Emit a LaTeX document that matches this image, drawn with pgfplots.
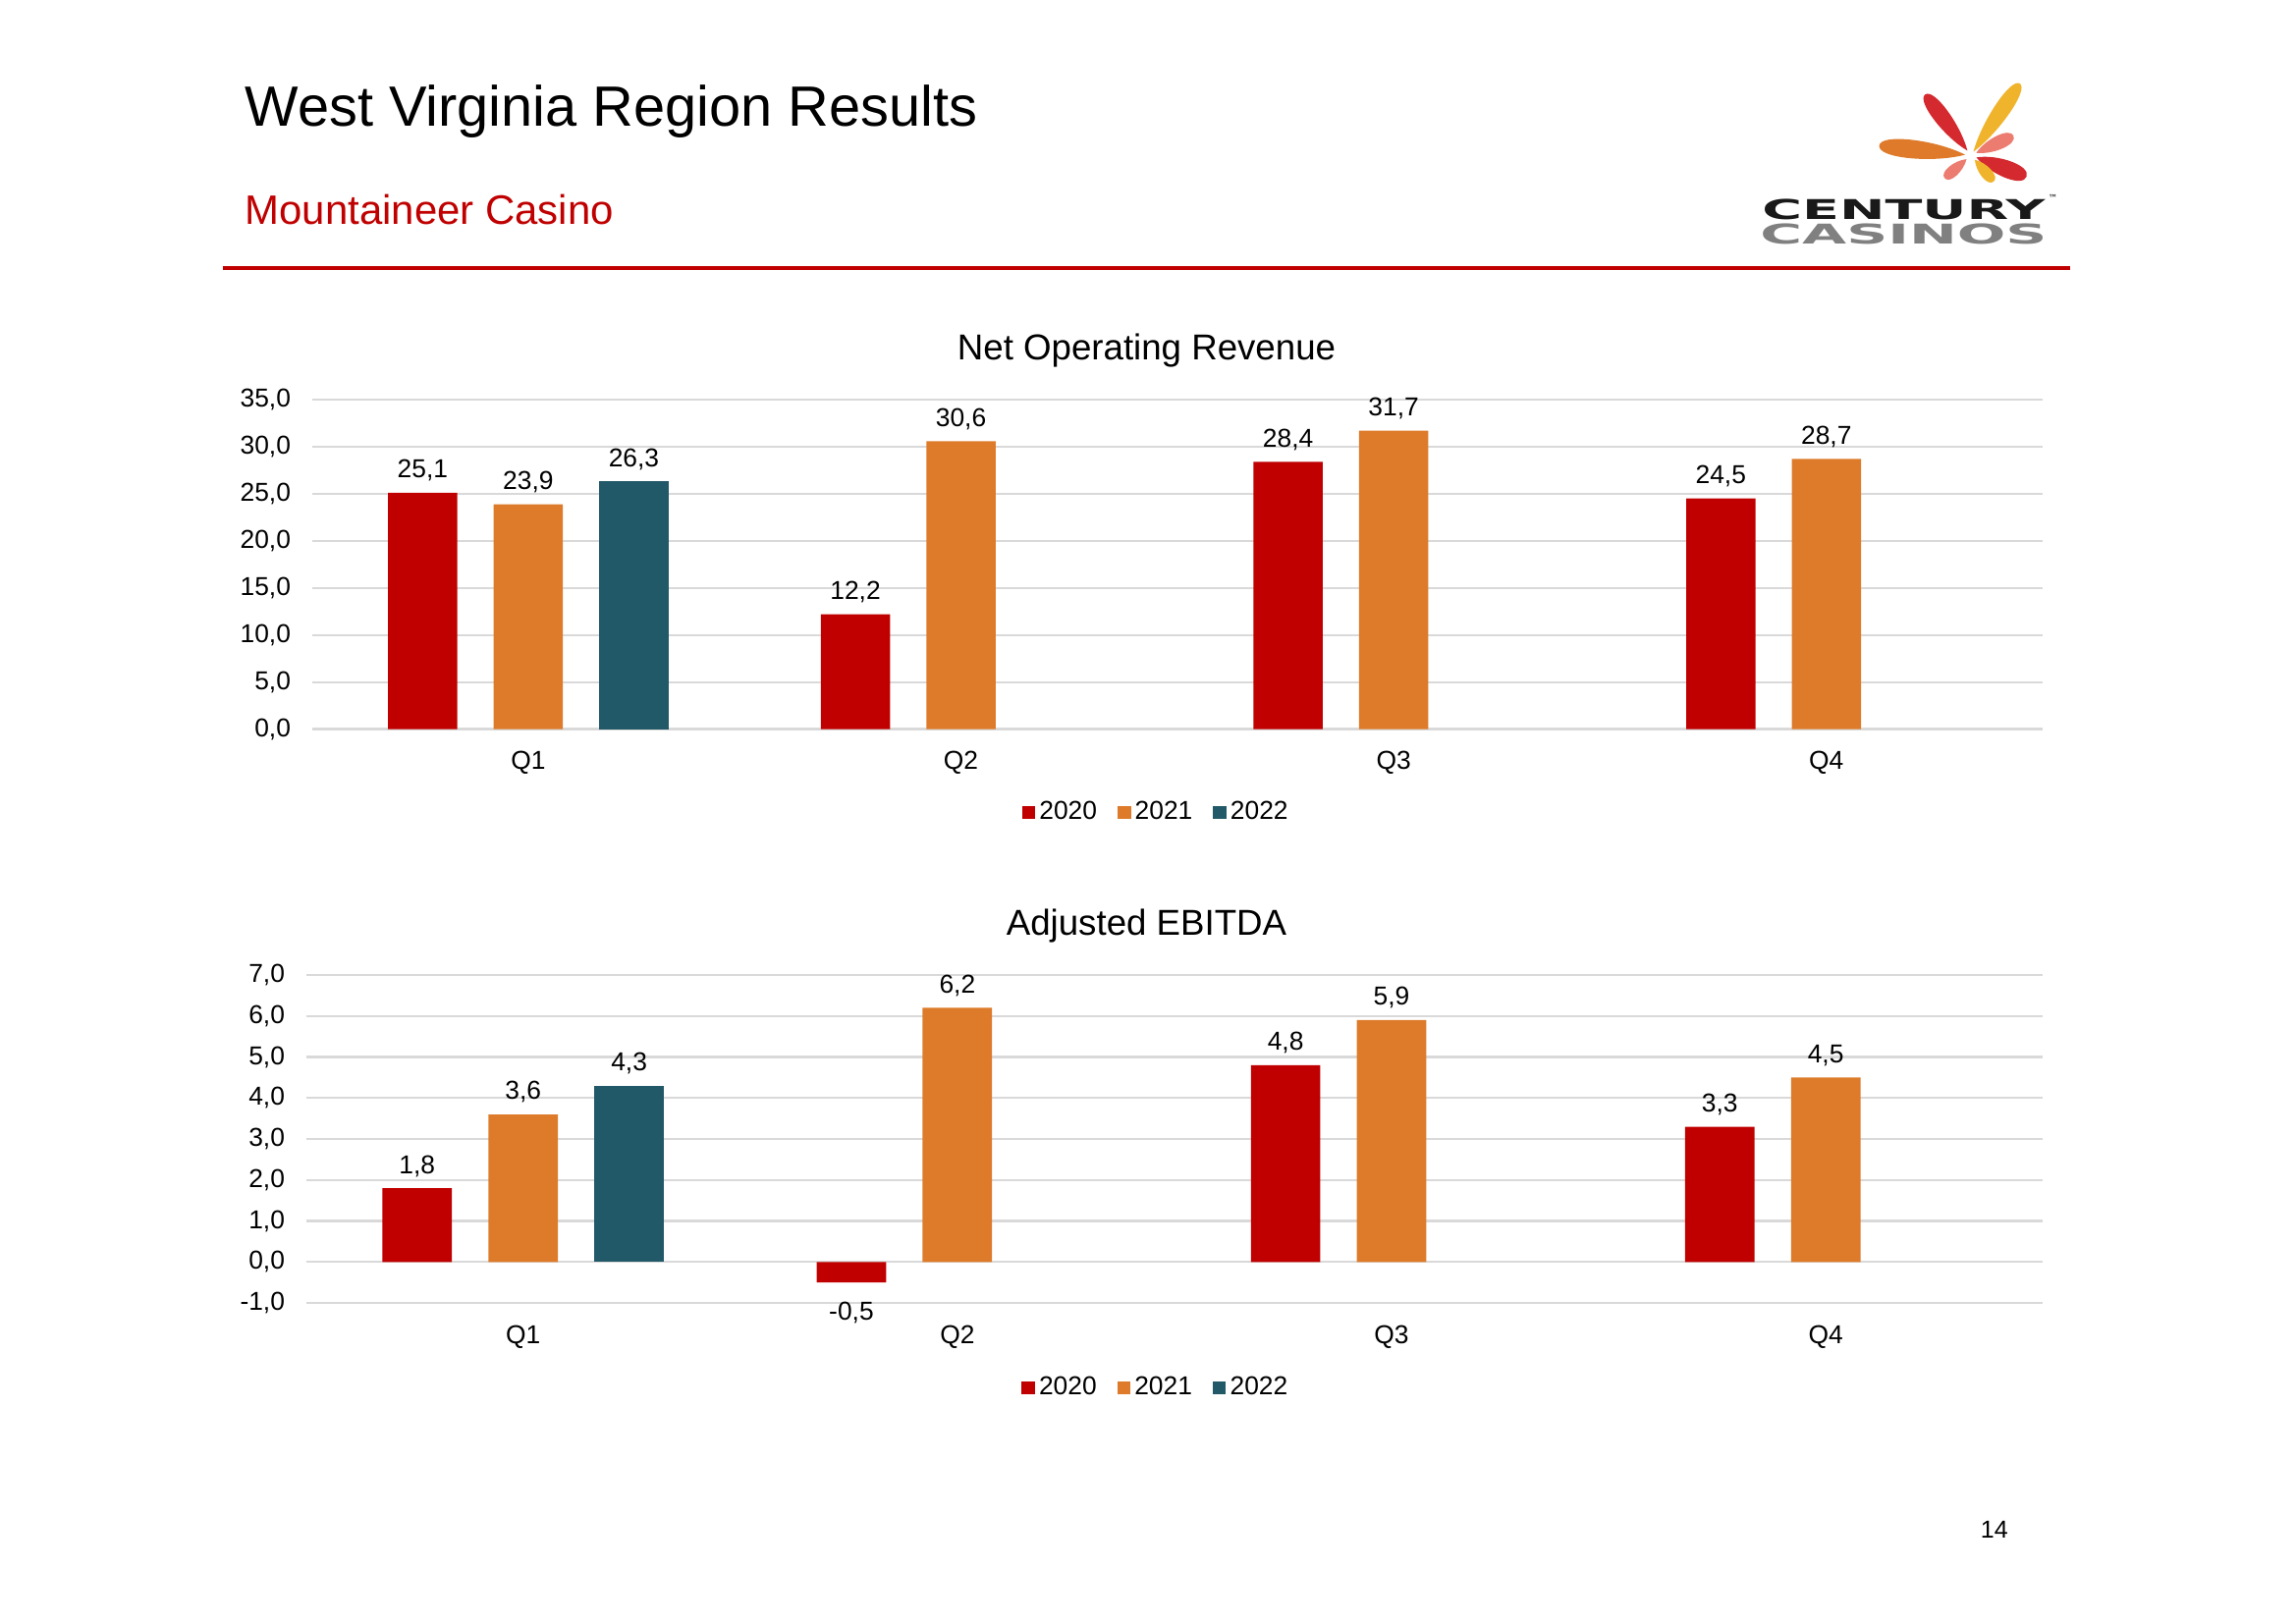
\documentclass[border=0pt]{standalone}
\usepackage{fontspec}
\setmainfont{Liberation Sans}
\newfontfamily\logofont{DejaVu Sans}
\usepackage{pgfplots}
\pgfplotsset{compat=1.18}
\definecolor{c2020}{HTML}{C00000}
\definecolor{c2021}{HTML}{DD7B2A}
\definecolor{c2022}{HTML}{215968}
\definecolor{gridc}{HTML}{D9D9D9}
\definecolor{lred}{HTML}{D42A2F}
\definecolor{lorange}{HTML}{DE7A2A}
\definecolor{lyellow}{HTML}{F0B42C}
\definecolor{lpink}{HTML}{EC7B70}
\definecolor{lgray}{HTML}{808080}
\newcommand\lbl{\fontsize{9.5bp}{11.4bp}\selectfont}
\newcommand\petal[5]{%
  \fill[#1, shift={(1346,106.1)}, rotate=#2]
    (#3,0) .. controls ({#3+0.35*(#4-#3)},#5) and (#4,{1.1*#5}) .. (#4,0)
    .. controls (#4,{-1.1*#5}) and ({#3+0.35*(#4-#3)},-#5) .. (#3,0) -- cycle;}
\pgfplotsset{
  mybars/.style={
    scale only axis,
    ybar, bar width=0.16,
    xmin=-0.5, xmax=3.5, xtick={0,1,2,3}, xticklabels={Q1,Q2,Q3,Q4},
    axis line style={draw=none}, major tick length=0pt,
    ymajorgrids, grid style={gridc, line width=0.8pt},
    tick label style={font=\lbl},
    yticklabel style={inner sep=0pt, xshift=-7.6bp},
    xticklabel style={inner sep=0pt, yshift=-8bp},
    yticklabel={\pgfmathprintnumber[assume math mode=true,fixed,fixed zerofill,precision=1,use comma]{\tick}},
    visualization depends on={y \as \yval},
    nodes near coords={\pgfmathprintnumber[assume math mode=true,fixed,fixed zerofill,precision=1,use comma]{\pgfplotspointmeta}},
    nodes near coords style={font=\lbl, text=black, inner xsep=0pt, inner ysep=4bp, yshift={-3*(\yval<0)}},
    clip=false,
    legend style={draw=none, fill=none, font=\lbl, legend columns=-1,
      nodes={inner sep=0.5bp},
      /tikz/every odd column/.append style={column sep=1bp},
      /tikz/every even column/.append style={column sep=7bp}},
    legend cell align=left,
  },
  sq/.style={draw=none, fill=#1, legend image code/.code={\fill[#1] (0bp,-2.45bp) rectangle (4.9bp,2.45bp);}},
}
\begin{document}
\begin{tikzpicture}
\begin{scope}[x=0.5369bp, y=-0.5369bp]
\path[use as bounding box, fill=white] (0,0) rectangle (1568,1109);
% header
\node[anchor=base west, inner sep=0pt, font=\fontsize{20.8bp}{25bp}\selectfont] at (167,86) {West Virginia Region Results};
\node[anchor=base west, inner sep=0pt, text=c2020, font=\fontsize{15.1bp}{18bp}\selectfont] at (167,153) {Mountaineer Casino};
\draw[c2020, line width=1.6bp] (152,183) -- (1414,183);
% logo
\petal{lorange}{174}{4}{63}{8}
\petal{lred}{127}{4}{52}{7}
\petal{lyellow}{55.7}{3}{59.3}{7}
\petal{lpink}{24.7}{4}{32}{6}
\petal{lred}{-21}{4}{40.7}{7.5}
\petal{lyellow}{-49}{4}{23.7}{5}
\petal{lpink}{221}{4}{23.8}{5}
\node[inner sep=0pt, font=\logofont\bfseries\fontsize{10bp}{10bp}\selectfont, text=black!90] at (1300,143) {\scalebox{2.0}[1]{CENTURY}};
\node[inner sep=0pt, font=\logofont\bfseries\fontsize{10bp}{10bp}\selectfont, text=lgray] at (1300,159.8) {\scalebox{2.1}[1]{CASINOS}};
\node[inner sep=0pt, font=\logofont\fontsize{3.5bp}{4bp}\selectfont] at (1402,135.7) {™};
% chart titles
\node[anchor=base, inner sep=0pt, font=\fontsize{13.2bp}{16bp}\selectfont] at (783,246) {Net Operating Revenue};
\node[anchor=base, inner sep=0pt, font=\fontsize{13.2bp}{16bp}\selectfont] at (783,639) {Adjusted EBITDA};
\node[inner sep=0pt, font=\fontsize{9bp}{11bp}\selectfont] at (1362,1045) {14};
\end{scope}
% top chart
\begin{axis}[mybars, at={(114.36bp,-267.38bp)}, anchor=south west,
  width=634.6bp, height=120.8bp,
  ymin=0, ymax=35, ytick={0,5,...,35},
  legend style={at={(0.4875,-0.253)}, anchor=center}]
\addplot[sq=c2020, bar shift=-0.244] coordinates {(0,25.1) (1,12.2) (2,28.4) (3,24.5)};
\addplot[sq=c2021, bar shift=0] coordinates {(0,23.9) (1,30.6) (2,31.7) (3,28.7)};
\addplot[sq=c2022, bar shift=0.244] coordinates {(0,26.3)};
\legend{2020,2021,2022}
\end{axis}
% bottom chart
\begin{axis}[mybars, at={(112.21bp,-477.84bp)}, anchor=south west,
  width=636.8bp, height=120.3bp,
  ymin=-1, ymax=7, ytick={-1,0,...,7},
  legend style={at={(0.489,-0.259)}, anchor=center}]
\addplot[sq=c2020, bar shift=-0.244] coordinates {(0,1.8) (1,-0.5) (2,4.8) (3,3.3)};
\addplot[sq=c2021, bar shift=0] coordinates {(0,3.6) (1,6.2) (2,5.9) (3,4.5)};
\addplot[sq=c2022, bar shift=0.244] coordinates {(0,4.3)};
\legend{2020,2021,2022}
\end{axis}
\end{tikzpicture}
\end{document}
